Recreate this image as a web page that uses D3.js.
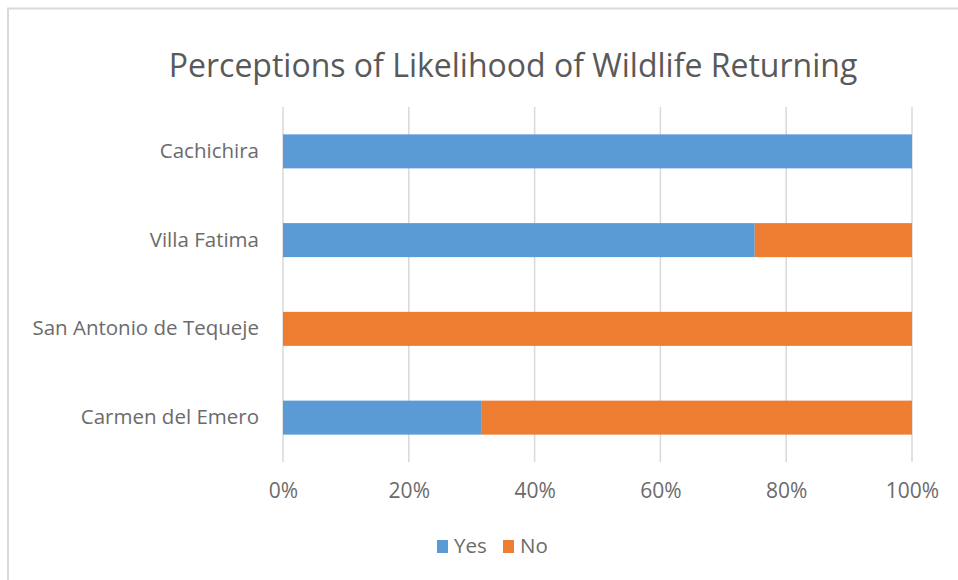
<!DOCTYPE html>
<html><head><meta charset="utf-8">
<script src="https://cdn.jsdelivr.net/npm/d3@7"></script>
<style>html,body{margin:0;padding:0;background:#fff;}svg{display:block;}</style>
</head><body>
<svg id="chart" width="958" height="580"></svg>
<script>
const categories = ["Cachichira", "Villa Fatima", "San Antonio de Tequeje", "Carmen del Emero"];
const yesValues = [1.0, 0.75, 0.0, 0.315];
const noValues = [0.0, 0.25, 1.0, 0.685];
const seriesNames = ["Yes", "No"];
const seriesColors = ["#5b9bd5", "#ed7d31"];
const tickValues = [0, 0.2, 0.4, 0.6, 0.8, 1.0];
const title = "Perceptions of Likelihood of Wildlife Returning";

const svg = d3.select("#chart");
const font = "'Open Sans', sans-serif";

// frame
svg.append("path").attr("d", "M8,600 L8,8.5 L970,8.5").attr("fill", "none")
  .attr("stroke", "#d9d9d9").attr("stroke-width", 2);

const x = d3.scaleLinear().domain([0, 1]).range([283, 912]);
const y = d3.scaleBand().domain(categories).range([107, 462]).paddingInner(0.617).paddingOuter(0.3085);

// gridlines
svg.append("g").selectAll("line").data(tickValues).join("line")
  .attr("x1", d => x(d)).attr("x2", d => x(d)).attr("y1", 107).attr("y2", 462)
  .attr("stroke", "#d9d9d9").attr("stroke-width", 1.5);

// stacked data
const rows = categories.map((c, i) => ({cat: c, Yes: yesValues[i], No: noValues[i]}));
const stack = d3.stack().keys(seriesNames)(rows);
svg.append("g").selectAll("g").data(stack).join("g")
  .attr("fill", (d, i) => seriesColors[i])
  .selectAll("rect").data(d => d).join("rect")
  .attr("x", d => x(d[0])).attr("width", d => x(d[1]) - x(d[0]))
  .attr("y", d => y(d.data.cat)).attr("height", y.bandwidth());

// x axis labels
const xAxis = d3.axisBottom(x).tickValues(tickValues).tickFormat(d3.format(".0%")).tickSize(0).tickPadding(0);
const gx = svg.append("g").attr("transform", "translate(0,478)").call(xAxis);
gx.select(".domain").remove();
gx.selectAll("text").attr("font-family", font).attr("font-size", 21).attr("fill", "#6b6b6b").attr("dy", "0.95em");

// y axis labels
const yAxis = d3.axisLeft(y).tickSize(0).tickPadding(0);
const gy = svg.append("g").attr("transform", "translate(259,0)").call(yAxis);
gy.select(".domain").remove();
gy.selectAll("text").attr("font-family", font).attr("font-size", 20.5).attr("fill", "#6b6b6b");

// title
svg.append("text").attr("x", 513).attr("y", 77).attr("text-anchor", "middle")
  .attr("font-family", font).attr("font-size", 32).attr("fill", "#595959")
  .text(title);

// legend
const legend = svg.append("g");
const legendX = [437, 503];
seriesNames.forEach((n, i) => {
  legend.append("rect").attr("x", legendX[i]).attr("y", 540).attr("width", 11).attr("height", 13).attr("fill", seriesColors[i]);
  legend.append("text").attr("x", legendX[i] + 17).attr("y", 553).attr("font-family", font)
    .attr("font-size", 20.5).attr("fill", "#6b6b6b").text(n);
});
</script>
</body></html>
